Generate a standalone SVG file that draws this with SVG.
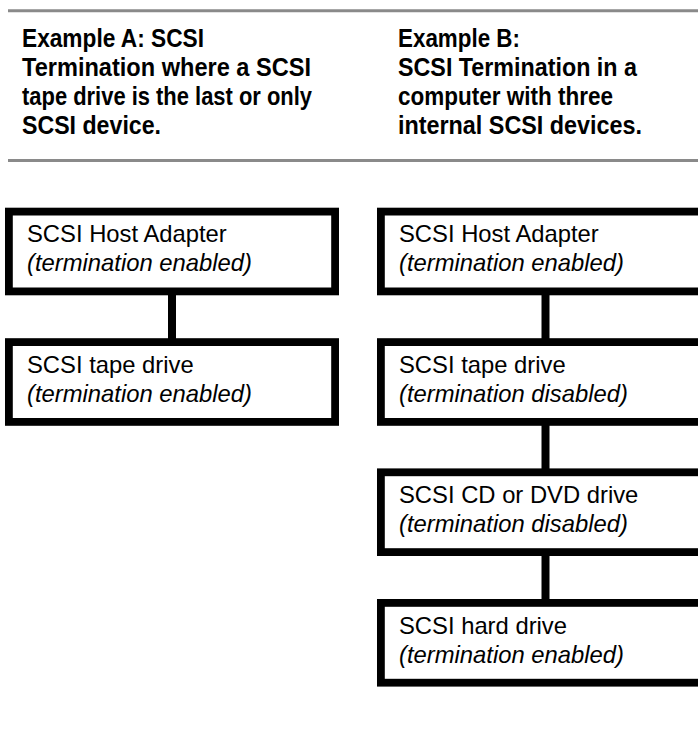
<svg xmlns="http://www.w3.org/2000/svg" width="698" height="730" viewBox="0 0 698 730">
<defs>
<style>
.rule{stroke:#8a8a8a;stroke-width:3;fill:none}
.hd{font-family:"Liberation Sans",Arial,sans-serif;font-weight:bold;font-size:25.5px;fill:#000}
.box{fill:#fff;stroke:#000;stroke-width:7.8}
.t1{font-family:"Liberation Sans",Arial,sans-serif;font-size:23.8px;fill:#000}
.t2{font-family:"Liberation Sans",Arial,sans-serif;font-size:23.8px;font-style:italic;fill:#000}
.conn{stroke:#000;stroke-width:8;fill:none}
</style>
</defs>
<rect width="698" height="730" fill="#fff"/>
<g id="header">
<line class="rule" x1="8" y1="10.8" x2="698" y2="10.8"/>
<line class="rule" x1="8" y1="160.5" x2="698" y2="160.5"/>
<text class="hd" x="22" y="46.5" textLength="182" lengthAdjust="spacingAndGlyphs">Example A: SCSI</text>
<text class="hd" x="22" y="75.7" textLength="289" lengthAdjust="spacingAndGlyphs">Termination where a SCSI</text>
<text class="hd" x="22" y="104.9" textLength="290" lengthAdjust="spacingAndGlyphs">tape drive is the last or only</text>
<text class="hd" x="22" y="134.1" textLength="139" lengthAdjust="spacingAndGlyphs">SCSI device.</text>
<text class="hd" x="398" y="46.5" textLength="122" lengthAdjust="spacingAndGlyphs">Example B:</text>
<text class="hd" x="398" y="75.7" textLength="239" lengthAdjust="spacingAndGlyphs">SCSI Termination in a</text>
<text class="hd" x="398" y="104.9" textLength="215" lengthAdjust="spacingAndGlyphs">computer with three</text>
<text class="hd" x="398" y="134.1" textLength="244" lengthAdjust="spacingAndGlyphs">internal SCSI devices.</text>
</g>
<g id="connectors">
<line class="conn" x1="172" y1="295" x2="172" y2="339"/>
<line class="conn" x1="545.5" y1="295" x2="545.5" y2="339"/>
<line class="conn" x1="545.5" y1="425" x2="545.5" y2="469"/>
<line class="conn" x1="545.5" y1="555" x2="545.5" y2="600"/>
</g>
<g id="a-host">
<rect class="box" x="8.9" y="211.6" width="326.2" height="79.8"/>
<text class="t1" x="27" y="242">SCSI Host Adapter</text>
<text class="t2" x="27" y="271">(termination enabled)</text>
</g>
<g id="a-tape">
<rect class="box" x="8.9" y="342.1" width="326.2" height="79.8"/>
<text class="t1" x="27" y="372.5">SCSI tape drive</text>
<text class="t2" x="27" y="401.5">(termination enabled)</text>
</g>
<g id="b-host">
<rect class="box" x="380.9" y="211.6" width="340" height="79.8"/>
<text class="t1" x="399" y="242">SCSI Host Adapter</text>
<text class="t2" x="399" y="271">(termination enabled)</text>
</g>
<g id="b-tape">
<rect class="box" x="380.9" y="342.1" width="340" height="79.8"/>
<text class="t1" x="399" y="372.5">SCSI tape drive</text>
<text class="t2" x="399" y="401.5">(termination disabled)</text>
</g>
<g id="b-cd">
<rect class="box" x="380.9" y="472.3" width="340" height="79.8"/>
<text class="t1" x="399" y="503">SCSI CD or DVD drive</text>
<text class="t2" x="399" y="532">(termination disabled)</text>
</g>
<g id="b-hdd">
<rect class="box" x="380.9" y="602.9" width="340" height="79.8"/>
<text class="t1" x="399" y="633.5">SCSI hard drive</text>
<text class="t2" x="399" y="662.5">(termination enabled)</text>
</g>
</svg>
